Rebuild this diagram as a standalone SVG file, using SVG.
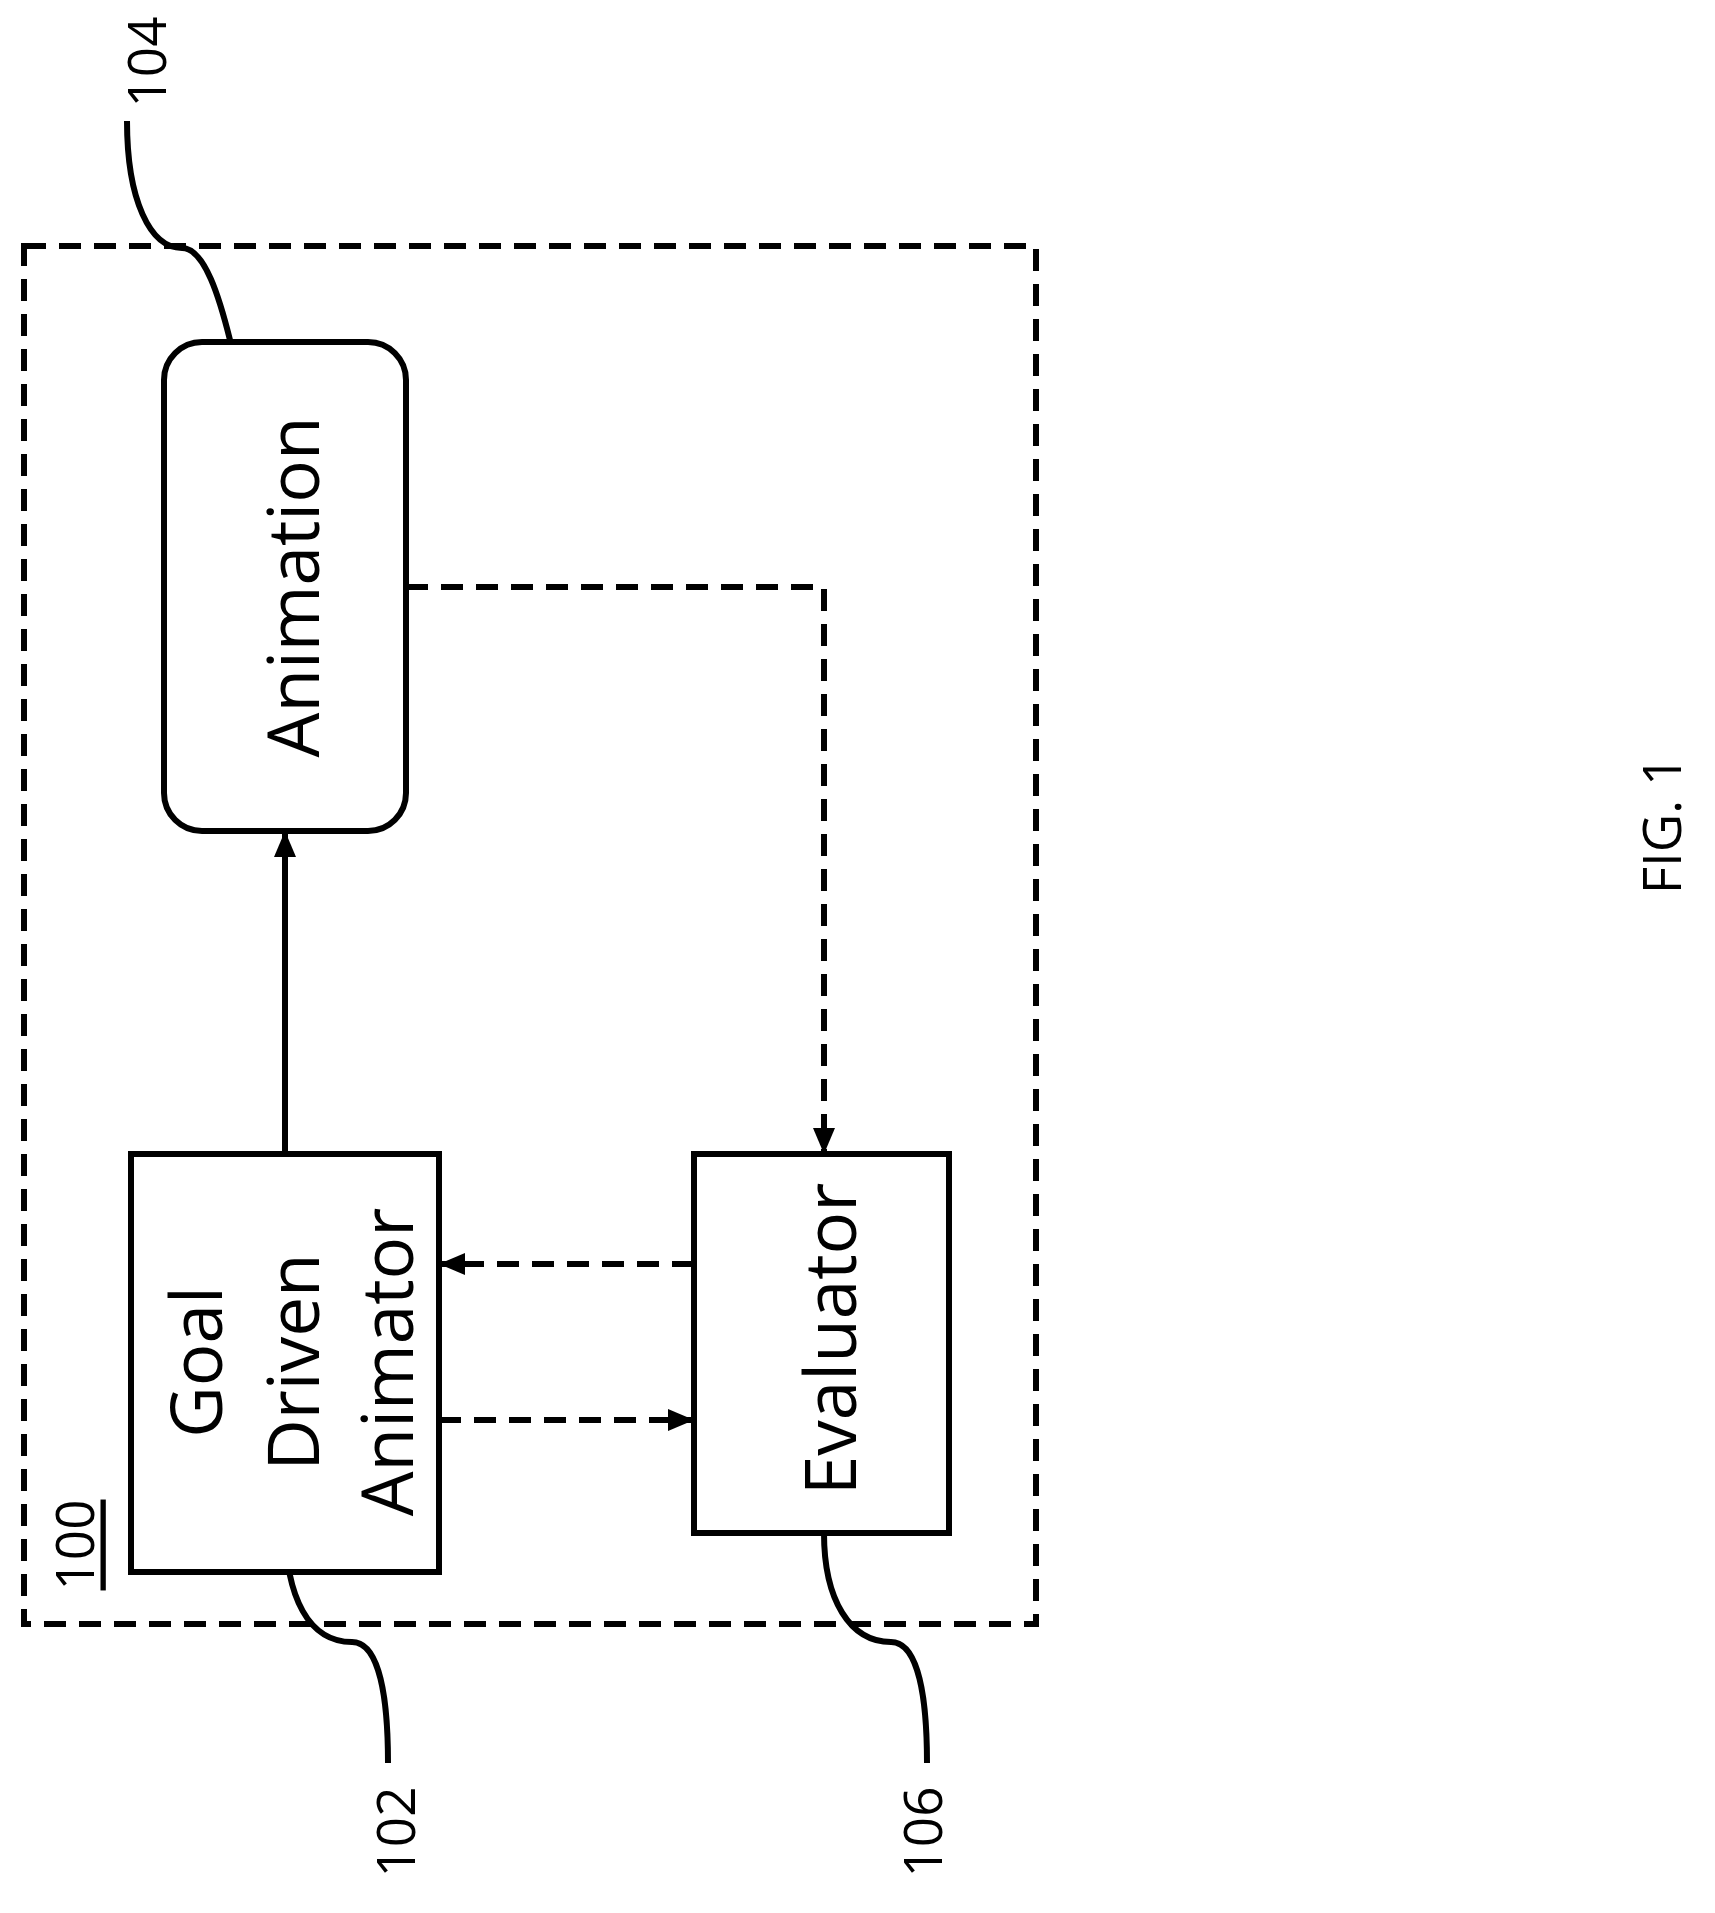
<svg xmlns="http://www.w3.org/2000/svg" width="1715" height="1913" viewBox="0 0 1715 1913">
<style>
.b{fill:#fff;stroke:#000;stroke-width:6}
.c{fill:none;stroke:#000;stroke-width:6}
.d{stroke-dasharray:22 13}
.t{font-family:"Open Sans","Noto Sans",sans-serif;font-size:71px;text-anchor:middle;dominant-baseline:central}
.n{font-family:"Open Sans","Noto Sans",sans-serif;font-size:53px;text-anchor:middle;dominant-baseline:central}
</style>
<defs>
<marker id="A" markerWidth="26" markerHeight="24" refX="26" refY="12" orient="auto" markerUnits="userSpaceOnUse" viewBox="0 0 26 24"><path d="M0,1L26,12L0,23z"/></marker></defs>
<rect class="c d" x="24" y="246" width="1012" height="1378"/>
<g id="conn">
<path class="c" d="M285,1154V831" marker-end="url(#A)"/>
<path class="c d" d="M406,587H824V1154" marker-end="url(#A)"/>
<path class="c d" d="M694,1264H439" marker-end="url(#A)"/>
<path class="c d" d="M439,1420H694" marker-end="url(#A)"/>
<path class="c" d="M127,121C127,200 150,248 182,248C205,248 220,300 230,340"/>
<path class="c" d="M285,1521C285,1600 310,1642 352,1642C380,1642 388,1700 388,1763"/>
<path class="c" d="M824,1533C824,1600 850,1642 891,1642C919,1642 927,1700 927,1763"/>
</g>
<g id="n104"><rect class="b" x="164" y="342" width="242" height="489" rx="38"/><text class="t" transform="translate(291,587) rotate(-90)">Animation</text></g>
<g id="n102"><rect class="b" x="131" y="1154" width="308" height="418"/>
<text class="t" transform="translate(194,1362) rotate(-90)">Goal</text>
<text class="t" transform="translate(291,1362) rotate(-90)">Driven</text>
<text class="t" transform="translate(385,1362) rotate(-90)">Animator</text></g>
<g id="n106"><rect class="b" x="694" y="1154" width="255" height="379"/><text class="t" transform="translate(828,1339) rotate(-90)">Evaluator</text></g>
<g id="labels">
<text class="n" transform="translate(145,62) rotate(-90)">104</text>
<text class="n" transform="translate(73,1545) rotate(-90)" text-decoration="underline">100</text>
<text class="n" transform="translate(394,1832) rotate(-90)">102</text>
<text class="n" transform="translate(921,1832) rotate(-90)">106</text>
<text class="n" transform="translate(1660,825) rotate(-90)">FIG. 1</text>
</g>
</svg>
